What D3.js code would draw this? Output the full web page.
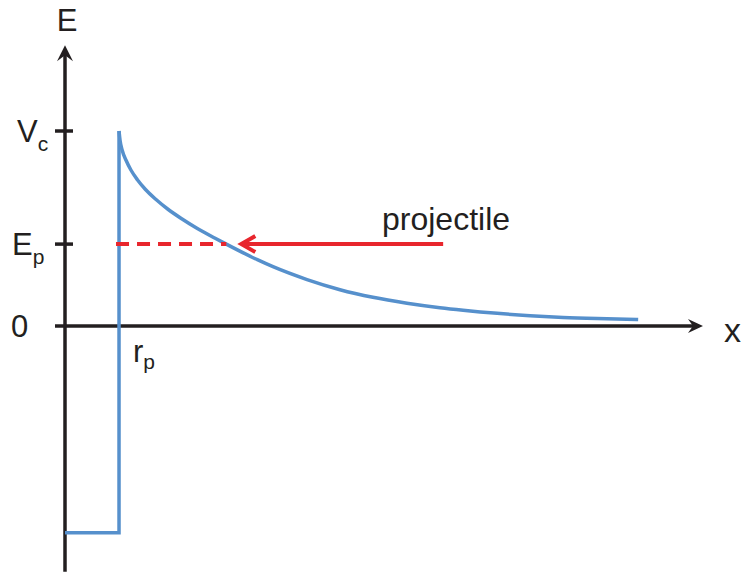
<!DOCTYPE html>
<html>
<head>
<meta charset="utf-8">
<script src="https://cdn.jsdelivr.net/npm/d3@7"></script>
<style>
  html, body { margin: 0; padding: 0; background: #fff; }
  svg { display: block; }
  text { font-family: "Liberation Sans", Arial, sans-serif; fill: #231f20; }
</style>
</head>
<body>
<svg id="chart" width="742" height="572"></svg>
<script>
// ---- data (r in units of r_p, E in units of V_c) ----
const potentialR = [1.0, 1.02, 1.06, 1.13, 1.22, 1.34, 1.49, 1.68, 1.90, 2.16, 2.45, 2.78, 2.95, 3.56, 3.85, 4.48, 5.09, 5.70, 6.33, 6.94, 7.37, 8.00, 8.61, 9.22, 9.85, 10.61];
const potentialE = [1.0, 0.95, 0.90, 0.85, 0.80, 0.75, 0.70, 0.65, 0.60, 0.55, 0.50, 0.45, 0.425, 0.340, 0.304, 0.238, 0.186, 0.147, 0.117, 0.094, 0.081, 0.065, 0.053, 0.044, 0.038, 0.033];
const wellDepth = -1.06;      // bottom of nuclear well
const rp = 1.0;               // nuclear radius
const Vc = 1.0;               // Coulomb barrier height
const Ep = 0.42;              // projectile energy
const projectileStartR = 7.0; // start of projectile arrow
const xAxisMax = 11.81, yAxisMax = 1.44, yAxisMin = -1.26;
const tickLabels = [{v: Vc, main: "V", sub: "c"}, {v: Ep, main: "E", sub: "p"}, {v: 0, main: "0", sub: ""}];

// ---- scales ----
const x = d3.scaleLinear().domain([0, xAxisMax]).range([65, 703]);
const y = d3.scaleLinear().domain([0, Vc]).range([326, 131]);

const svg = d3.select("#chart");
const black = "#231f20", blue = "#5690cc", red = "#e8262d";

// arrowhead helper (stealth shape), pointing along angle (deg)
function arrowHead(g, px, py, angle, color, len, hw, notch) {
  g.append("path")
    .attr("d", `M0,0 L${-len},${-hw} L${-notch},0 L${-len},${hw} Z`)
    .attr("transform", `translate(${px},${py}) rotate(${angle})`)
    .attr("fill", color);
}

// ---- axes ----
const axes = svg.append("g");
axes.append("line")
  .attr("x1", x(0)).attr("x2", x(0))
  .attr("y1", y(yAxisMin)).attr("y2", y(yAxisMax) + 8)
  .attr("stroke", black).attr("stroke-width", 3.5);
arrowHead(axes, x(0), y(yAxisMax), -90, black, 16, 8, 10);

axes.append("line")
  .attr("x1", x(0) - 10).attr("x2", x(xAxisMax) - 8)
  .attr("y1", y(0)).attr("y2", y(0))
  .attr("stroke", black).attr("stroke-width", 3.5);
arrowHead(axes, x(xAxisMax), y(0), 0, black, 15, 7, 10);

// ticks on E axis
[Vc, Ep].forEach(v => {
  axes.append("line")
    .attr("x1", x(0) - 10).attr("x2", x(0) + 8)
    .attr("y1", y(v)).attr("y2", y(v))
    .attr("stroke", black).attr("stroke-width", 3.5);
});

// tick labels
const labelX = {1: 17, 0.42: 12, 0: 11};
tickLabels.forEach(t => {
  const tx = svg.append("text")
    .attr("x", labelX[t.v]).attr("y", y(t.v) + 11)
    .attr("font-size", 31);
  tx.append("tspan").text(t.main);
  if (t.sub) tx.append("tspan").attr("font-size", 21).attr("dy", 9).text(t.sub);
});

// axis titles
svg.append("text").attr("x", x(0) + 2).attr("y", 31).attr("text-anchor", "middle")
  .attr("font-size", 31).text("E");
svg.append("text").attr("x", 724).attr("y", 342)
  .attr("font-size", 34).text("x");

// r_p label
const rpLab = svg.append("text").attr("x", x(rp) + 14).attr("y", 362).attr("font-size", 31);
rpLab.append("tspan").text("r");
rpLab.append("tspan").attr("font-size", 21).attr("dy", 7).text("p");

// ---- potential ----
const pot = svg.append("g").attr("fill", "none").attr("stroke", blue).attr("stroke-width", 3.5);
// nuclear well
pot.append("path")
  .attr("d", d3.line()([[x(0), y(wellDepth)], [x(rp), y(wellDepth)], [x(rp), y(Vc)]]))
  .attr("stroke-linejoin", "miter");
// Coulomb tail
const pts = potentialR.map((r, i) => [r, potentialE[i]]);
pot.append("path")
  .attr("d", d3.line().x(d => x(d[0])).y(d => y(d[1])).curve(d3.curveMonotoneX)(pts));

// ---- projectile ----
// find crossing with the barrier
let crossR = 2.95;
for (let i = 1; i < pts.length; i++) {
  if (pts[i - 1][1] >= Ep && pts[i][1] <= Ep) {
    const t = (pts[i - 1][1] - Ep) / (pts[i - 1][1] - pts[i][1]);
    crossR = pts[i - 1][0] + t * (pts[i][0] - pts[i - 1][0]);
  }
}
const proj = svg.append("g").attr("stroke", red).attr("stroke-width", 4).attr("fill", "none");
proj.append("line")
  .attr("x1", x(rp) - 3).attr("x2", x(crossR))
  .attr("y1", y(Ep)).attr("y2", y(Ep))
  .attr("stroke-dasharray", "13,8");
const tipX = x(crossR) + 14;
proj.append("line")
  .attr("x1", tipX + 2).attr("x2", x(projectileStartR))
  .attr("y1", y(Ep)).attr("y2", y(Ep));
proj.append("path")
  .attr("d", `M${tipX + 15},${y(Ep) - 8} L${tipX + 1},${y(Ep)} L${tipX + 15},${y(Ep) + 8}`)
  .attr("stroke-linecap", "butt").attr("stroke-linejoin", "miter");

svg.append("text").attr("x", 382).attr("y", 230).attr("font-size", 32).text("projectile");
</script>
</body>
</html>
